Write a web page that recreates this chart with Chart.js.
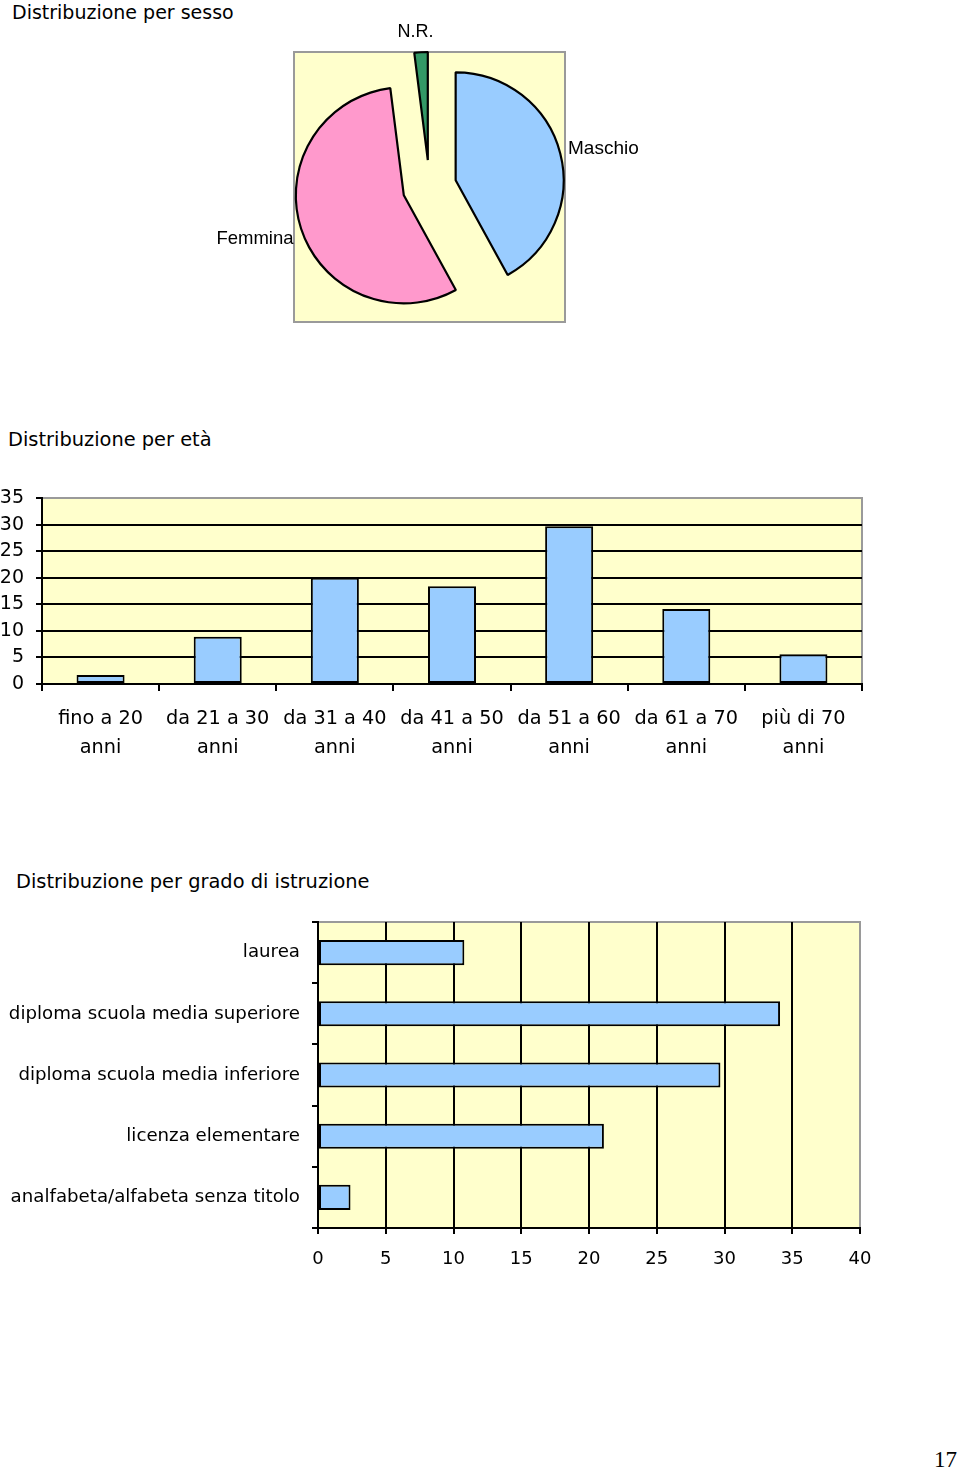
<!DOCTYPE html>
<html><head><meta charset="utf-8">
<script src="https://cdn.jsdelivr.net/npm/chart.js@4.4.1/dist/chart.umd.min.js"></script>
<style>
html,body{margin:0;padding:0;background:#fff;}
body{width:960px;height:1469px;position:relative;overflow:hidden;font-family:"DejaVu Sans";}
.t{position:absolute;font-size:19px;line-height:20px;color:#000;white-space:nowrap;}
canvas{position:absolute;left:0;}
#pn{position:absolute;left:934px;top:1447px;font-family:"Liberation Serif";font-size:23px;line-height:26px;color:#000;}
</style></head>
<body>
<div class="t" style="left:12px;top:2px">Distribuzione per sesso</div>
<div class="t" style="left:8px;top:430px;font-size:19.4px">Distribuzione per età</div>
<div class="t" style="left:16px;top:872px;font-size:19.4px">Distribuzione per grado di istruzione</div>
<canvas id="c1" width="960" height="360" style="top:0;width:960px;height:360px"></canvas>
<canvas id="c2" width="960" height="300" style="top:480px;width:960px;height:300px"></canvas>
<canvas id="c3" width="960" height="380" style="top:900px;width:960px;height:380px"></canvas>
<div id="pn">17</div>
<script>
// ---- data ----
const sexLabels = ['Maschio', 'Femmina', 'N.R.'];
const sexValues = [42, 56, 2];

const ageLabels = [
  ['fino a 20', 'anni'], ['da 21 a 30', 'anni'], ['da 31 a 40', 'anni'],
  ['da 41 a 50', 'anni'], ['da 51 a 60', 'anni'], ['da 61 a 70', 'anni'],
  ['più di 70', 'anni']
];
const ageValues = [1.7, 8.9, 20, 18.4, 29.7, 14.1, 5.6];
const ageAxis = { min: 0, max: 35, step: 5 };

const eduLabels = ['laurea', 'diploma scuola media superiore', 'diploma scuola media inferiore',
  'licenza elementare', 'analfabeta/alfabeta senza titolo'];
const eduValues = [10.8, 34.1, 29.7, 21.1, 2.4];
const eduAxis = { min: 0, max: 40, step: 5 };

// ---- styling ----
Chart.defaults.font.family = 'DejaVu Sans';
Chart.defaults.color = '#000';
const PLOT_BG = '#FFFFCC';
const PLOT_BORDER = '#9a9a9a';
const BAR_FILL = '#99CCFF';
const PIE_EXPLODE = 27; // explode distance in px

const bgPlugin = {
  id: 'plotbg',
  beforeDraw(chart) {
    const a = chart.chartArea, ctx = chart.ctx;
    ctx.save();
    ctx.fillStyle = PLOT_BG;
    ctx.fillRect(a.left, a.top, a.right - a.left, a.bottom - a.top);
    ctx.strokeStyle = PLOT_BORDER;
    ctx.lineWidth = 2;
    ctx.strokeRect(a.left, a.top, a.right - a.left, a.bottom - a.top);
    ctx.restore();
  }
};

// draws each library arc element shifted outward along its mid-angle (exploded pie)
const explodePlugin = {
  id: 'explode',
  beforeDatasetDraw(chart, args) {
    const ctx = chart.ctx;
    args.meta.data.forEach(arc => {
      const p = arc.getProps(['startAngle', 'endAngle'], true);
      const a = (p.startAngle + p.endAngle) / 2;
      ctx.save();
      ctx.translate(Math.cos(a) * PIE_EXPLODE, Math.sin(a) * PIE_EXPLODE);
      arc.draw(ctx, chart.chartArea);
      ctx.restore();
    });
    return false;
  }
};

const pieLabelPlugin = {
  id: 'pielabels',
  afterDraw(chart) {
    const ctx = chart.ctx;
    const meta = chart.getDatasetMeta(0);
    ctx.save();
    ctx.fillStyle = '#000';
    meta.data.forEach((arc, i) => {
      const p = arc.getProps(['x', 'y', 'startAngle', 'endAngle', 'outerRadius'], true);
      const a = (p.startAngle + p.endAngle) / 2;
      const r = p.outerRadius + PIE_EXPLODE + 8;
      const c = Math.cos(a), s = Math.sin(a);
      let x = p.x + c * r, y = p.y + s * r;
      if (c > 0.3) { ctx.font = '19px "Liberation Sans"'; ctx.textAlign = 'left'; ctx.textBaseline = 'middle'; y -= 3; }
      else if (c < -0.3) { ctx.font = '18.5px "Liberation Sans"'; ctx.textAlign = 'right'; ctx.textBaseline = 'middle'; y += 8; }
      else { ctx.font = '18px "Liberation Sans"'; ctx.textAlign = 'center'; ctx.textBaseline = s < 0 ? 'bottom' : 'top'; y += s < 0 ? -3 : 6; x -= 5; }
      ctx.fillText(chart.data.labels[i], x, y);
    });
    ctx.restore();
  }
};

// ---- pie ----
new Chart(document.getElementById('c1'), {
  type: 'pie',
  data: {
    labels: sexLabels,
    datasets: [{
      data: sexValues,
      backgroundColor: ['#99CCFF', '#FF99CC', '#339966'],
      borderColor: '#000',
      borderWidth: 2.2,
      offset: 0,
      hoverOffset: 0
    }]
  },
  options: {
    responsive: false,
    animation: false,
    radius: 108,
    layout: { padding: { left: 294, top: 52, right: 395, bottom: 38 } },
    plugins: { legend: { display: false }, tooltip: { enabled: false } }
  },
  plugins: [bgPlugin, explodePlugin, pieLabelPlugin]
});

// ---- vertical bars ----
new Chart(document.getElementById('c2'), {
  type: 'bar',
  data: {
    labels: ageLabels,
    datasets: [{
      data: ageValues,
      backgroundColor: BAR_FILL,
      borderColor: '#000',
      borderWidth: 2,
      borderSkipped: false,
      barPercentage: 0.41,
      categoryPercentage: 1
    }]
  },
  options: {
    responsive: false,
    animation: false,
    layout: { padding: { left: 0, top: 18, right: 98, bottom: 0 } },
    plugins: { legend: { display: false }, tooltip: { enabled: false } },
    scales: {
      x: {
        afterFit(s) { s.height = 96; s.paddingLeft = 0; s.paddingRight = 0; },
        grid: { drawOnChartArea: false, drawTicks: true, tickLength: 7, tickColor: '#000', lineWidth: 2, offset: true },
        border: { color: '#000', width: 2 },
        ticks: { autoSkip: false, maxRotation: 0, minRotation: 0, padding: 14, font: { size: 19.3, lineHeight: 1.47 } }
      },
      y: {
        min: ageAxis.min, max: ageAxis.max,
        afterFit(s) { s.width = 42; s.paddingTop = 0; s.paddingBottom = 0; },
        grid: {
          color: c => (c.tick && c.tick.value === ageAxis.max) ? 'rgba(0,0,0,0)' : '#000',
          tickColor: '#000', lineWidth: 2, tickLength: 6
        },
        border: { color: '#000', width: 2 },
        ticks: { stepSize: ageAxis.step, padding: 12, font: { size: 19 } }
      }
    }
  },
  plugins: [bgPlugin]
});

// ---- horizontal bars ----
new Chart(document.getElementById('c3'), {
  type: 'bar',
  data: {
    labels: eduLabels,
    datasets: [{
      data: eduValues,
      backgroundColor: BAR_FILL,
      borderColor: '#000',
      borderWidth: 2,
      borderSkipped: false,
      barPercentage: 0.41,
      categoryPercentage: 1
    }]
  },
  options: {
    indexAxis: 'y',
    responsive: false,
    animation: false,
    layout: { padding: { left: 0, top: 22, right: 100, bottom: 0 } },
    plugins: { legend: { display: false }, tooltip: { enabled: false } },
    scales: {
      y: {
        afterFit(s) { s.width = 318; s.paddingTop = 0; s.paddingBottom = 0; },
        grid: { drawOnChartArea: false, drawTicks: true, tickLength: 6, tickColor: '#000', lineWidth: 2, offset: true },
        border: { color: '#000', width: 2 },
        ticks: { autoSkip: false, padding: 12, font: { size: 18.2 } }
      },
      x: {
        min: eduAxis.min, max: eduAxis.max,
        afterFit(s) { s.height = 52; s.paddingLeft = 0; s.paddingRight = 0; },
        grid: {
          color: c => (c.tick && c.tick.value === eduAxis.max) ? 'rgba(0,0,0,0)' : '#000',
          tickColor: '#000', lineWidth: 2, tickLength: 6
        },
        border: { color: '#000', width: 2 },
        ticks: { stepSize: eduAxis.step, padding: 15, font: { size: 18 } }
      }
    }
  },
  plugins: [bgPlugin]
});
</script>
</body></html>
